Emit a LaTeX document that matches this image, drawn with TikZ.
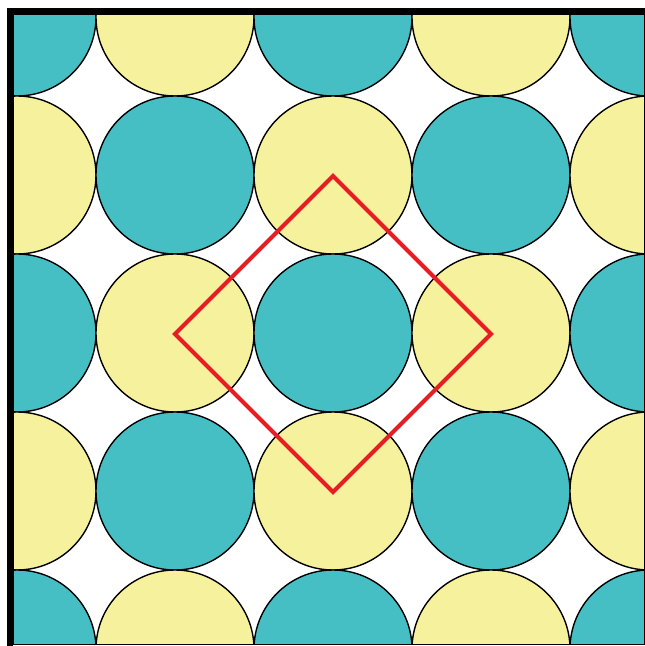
\documentclass[tikz,border=0pt]{standalone}
\definecolor{tealc}{RGB}{70,191,196}
\definecolor{yelc}{RGB}{246,241,156}
\definecolor{redc}{RGB}{230,30,35}
\begin{document}
\begin{tikzpicture}[x=1pt,y=-1pt,
  tealdisc/.style={fill=tealc, draw=black, line width=1.4pt},
  yeldisc/.style={fill=yelc, draw=black, line width=1.4pt}]
\useasboundingbox (0,0) rectangle (645,646);
\fill[white] (0,0) rectangle (645,646);
\begin{scope}
\clip (13,14) rectangle (644,644);
\foreach \i in {0,...,4}{
  \foreach \j in {0,...,4}{
    \pgfmathtruncatemacro{\parity}{mod(\i+\j,2)}
    \ifnum\parity=0
      \path[tealdisc] (17+158*\i,17+158*\j) circle (79);
    \else
      \path[yeldisc] (17+158*\i,17+158*\j) circle (79);
    \fi
  }
}
\end{scope}
\draw[black, line width=1pt] (13,14) rectangle (644,644);
\fill[black] (7,8) rectangle (645,14);
\fill[black] (7,8) rectangle (13,646);
\coordinate (t) at (333,176);
\coordinate (r) at (491,334);
\coordinate (b) at (333,492);
\coordinate (l) at (175,334);
\draw[redc, line width=4.2pt, line join=miter] (t) -- (r) -- (b) -- (l) -- cycle;
\end{tikzpicture}
\end{document}
